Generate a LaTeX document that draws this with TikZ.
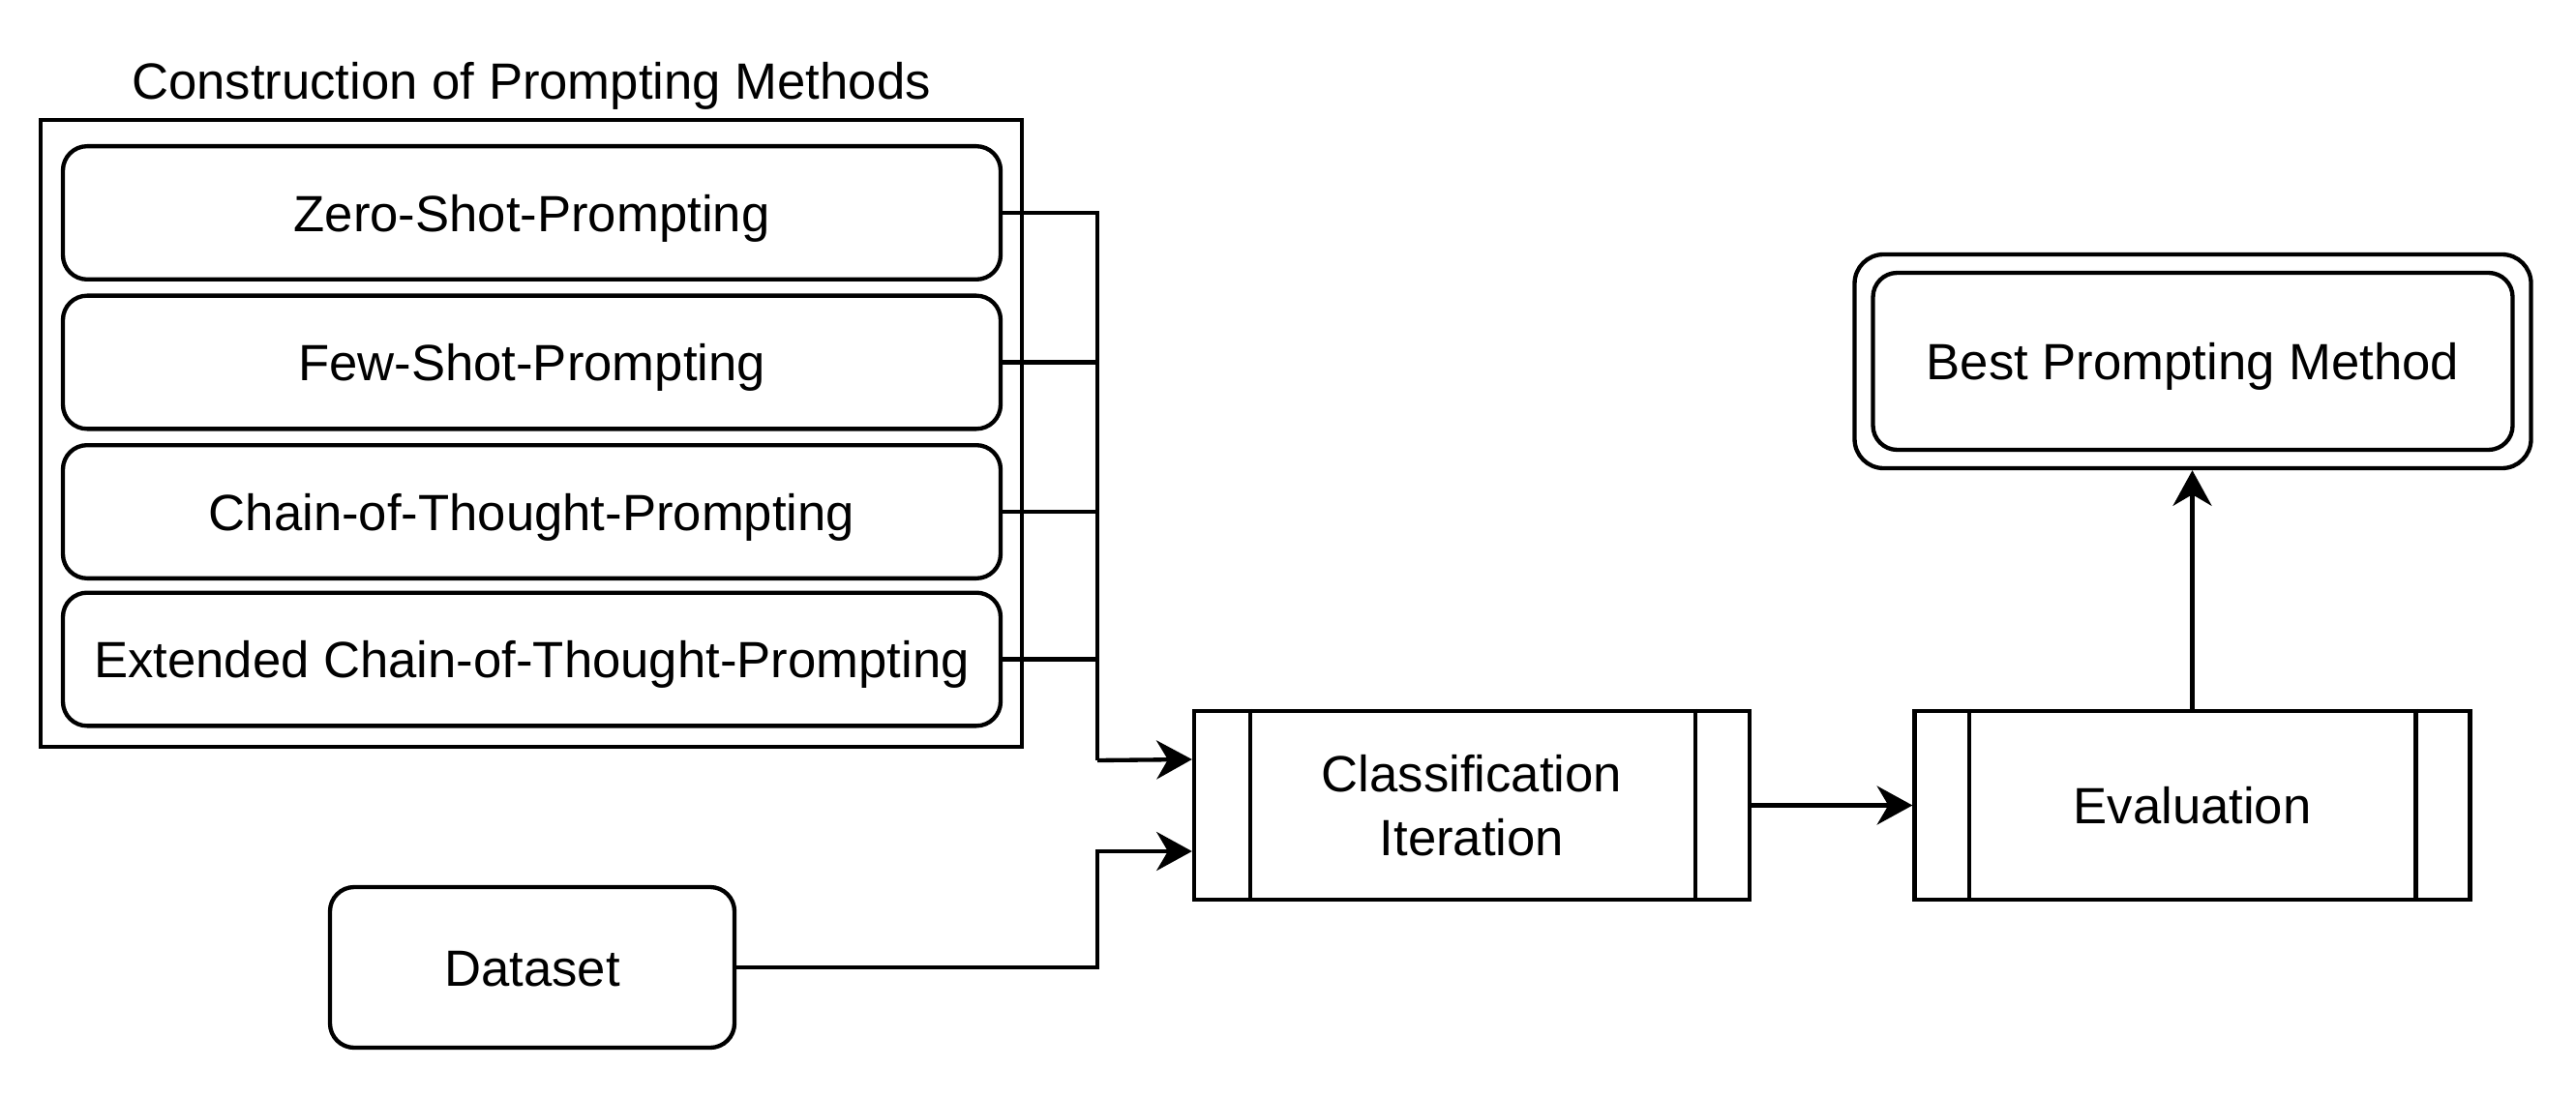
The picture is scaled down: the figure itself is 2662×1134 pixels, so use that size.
\documentclass[tikz,border=0pt]{standalone}
\usepackage{fontspec}
\setmainfont{Liberation Sans}
\usetikzlibrary{arrows.meta,calc}
\tikzset{
  lbl/.style={font=\fontsize{15.8}{19.4}\selectfont, text height=1.2em, text depth=0.05em, align=center},
  rbox/.style={lbl, draw, line width=1.3pt, rounded corners=7.5pt, inner sep=0pt},
  pbox/.style={font=\fontsize{15.8}{19.4}\selectfont, align=center, draw, line width=1.3pt, inner sep=0pt, minimum width=172.2pt, minimum height=58.5pt},
  conn/.style={line width=1.3pt},
  arr/.style={line width=1.3pt, -{Stealth[length=11pt, width=12pt, inset=3.5pt]}}
}
\begin{document}
\begin{tikzpicture}[x=0.3pt, y=-0.3pt]
\useasboundingbox (0,0) rectangle (2662,1134);
% group
\node[lbl] (title) at (549,83) {Construction of Prompting Methods};
\node[draw, line width=1.3pt, minimum width=304.2pt, minimum height=194.4pt, inner sep=0pt] (grp) at (549,448) {};
\node[rbox, minimum width=290.7pt, minimum height=41.3pt] (p1) at (549.5,220) {Zero-Shot-Prompting};
\node[rbox, minimum width=290.7pt, minimum height=41.3pt] (p2) at (549.5,374.5) {Few-Shot-Prompting};
\node[rbox, minimum width=290.7pt, minimum height=41.3pt] (p3) at (549.5,529) {Chain-of-Thought-Prompting};
\node[rbox, minimum width=290.7pt, minimum height=41.3pt] (p4) at (549.5,681.5) {Extended Chain-of-Thought-Prompting};
% dataset
\node[rbox, minimum width=125.4pt, minimum height=49.8pt] (ds) at (550,1000) {Dataset};
% classification
\node[pbox] (cls) at (1521,832.5) {Classification\\[0.5pt]Iteration};
\draw[conn] ([xshift=18pt]cls.north west) -- ([xshift=18pt]cls.south west);
\draw[conn] ([xshift=-17.5pt]cls.north east) -- ([xshift=-17.5pt]cls.south east);
% evaluation
\node[pbox, text height=1.2em, text depth=0.05em] (ev) at (2265.5,832.5) {Evaluation};
\draw[conn] ([xshift=17.5pt]ev.north west) -- ([xshift=17.5pt]ev.south west);
\draw[conn] ([xshift=-17.5pt]ev.north east) -- ([xshift=-17.5pt]ev.south east);
% best
\node[draw, line width=1.3pt, rounded corners=9pt, minimum width=209.7pt, minimum height=66.3pt, inner sep=0pt] (bestout) at (2266,373.5) {};
\node[rbox, minimum width=198.3pt, minimum height=54.9pt] (best) at (2266,373.5) {Best Prompting Method};
% connectors
\coordinate (in1) at ([yshift=14.25pt]cls.west);
\coordinate (in2) at ([yshift=-14.25pt]cls.west);
\coordinate (jx) at (1134,786);
\draw[conn] (p1.east) -| (jx);
\draw[conn] (p2.east) -| (jx);
\draw[conn] (p3.east) -| (jx);
\draw[conn] (p4.east) -| (jx);
\draw[arr] (jx) -- (in1);
\draw[arr] (ds.east) -| (jx |- in2) -- (in2);
\draw[arr] (cls.east) -- (ev.west);
\draw[arr] (ev.north) -- (ev.north |- bestout.south);
\end{tikzpicture}
\end{document}
